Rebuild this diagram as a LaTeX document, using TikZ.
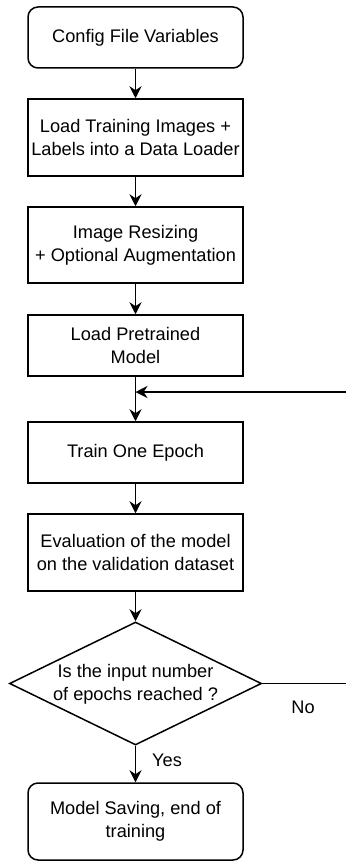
\documentclass[tikz,border=0pt]{standalone}
\usepackage{fontspec}
\setmainfont{Liberation Sans}
\usetikzlibrary{shapes.geometric,arrows.meta}
\begin{document}
\begin{tikzpicture}[x=1pt,y=-1pt,
  every node/.style={font=\fontsize{18.2}{23.3}\selectfont, align=center, inner sep=0pt},
  box/.style={draw, line width=1.5pt, minimum width=215pt},
  rbox/.style={box, rounded corners=10pt},
  dec/.style={draw, diamond, line width=1.5pt, minimum width=252pt, minimum height=123pt},
  arr/.style={line width=1.8pt, -{Stealth[length=12pt,width=12pt,inset=4pt]}},
  ln/.style={line width=1.5pt}
]
\useasboundingbox (0,0) rectangle (346,861);
\node[rbox, minimum height=61pt] (b1) at (135.5,37.5) {Config File Variables};
\node[box, minimum height=77pt] (b2) at (135.5,137.5) {Load Training Images +\\Labels into a Data Loader};
\node[box, minimum height=76pt] (b3) at (135.5,245) {Image Resizing\\+ Optional Augmentation};
\node[box, minimum height=61pt] (b4) at (135.5,345.5) {Load Pretrained\\Model};
\node[box, minimum height=61pt] (b5) at (135.5,452.5) {Train One Epoch};
\node[box, minimum height=77pt] (b6) at (135.5,552.5) {Evaluation of the model\\on the validation dataset};
\node[dec] (d) at (135.5,683.5) {};
\node (dt) at (135.5,684) {Is the input number\\of epochs reached ?};
\node[rbox, minimum height=77pt] (b7) at (135.5,821.5) {Model Saving, end of\\training};
\node (no) at (303,707) {No};
\node (yes) at (167,760) {Yes};
\coordinate (ret) at (346,392);
\coordinate (noend) at (346,683.5);
\draw[arr] (b1) -- (b2);
\draw[arr] (b2) -- (b3);
\draw[arr] (b3) -- (b4);
\draw[arr] (b4) -- (b5);
\draw[arr] (b5) -- (b6);
\draw[arr] (b6) -- (d);
\draw[arr] (d) -- (b7);
\draw[ln, -{Stealth[length=12pt,width=12pt,inset=4pt]}] (ret) -- (b4.south |- ret);
\draw[ln] (d.east) -- (noend);
\end{tikzpicture}
\end{document}
